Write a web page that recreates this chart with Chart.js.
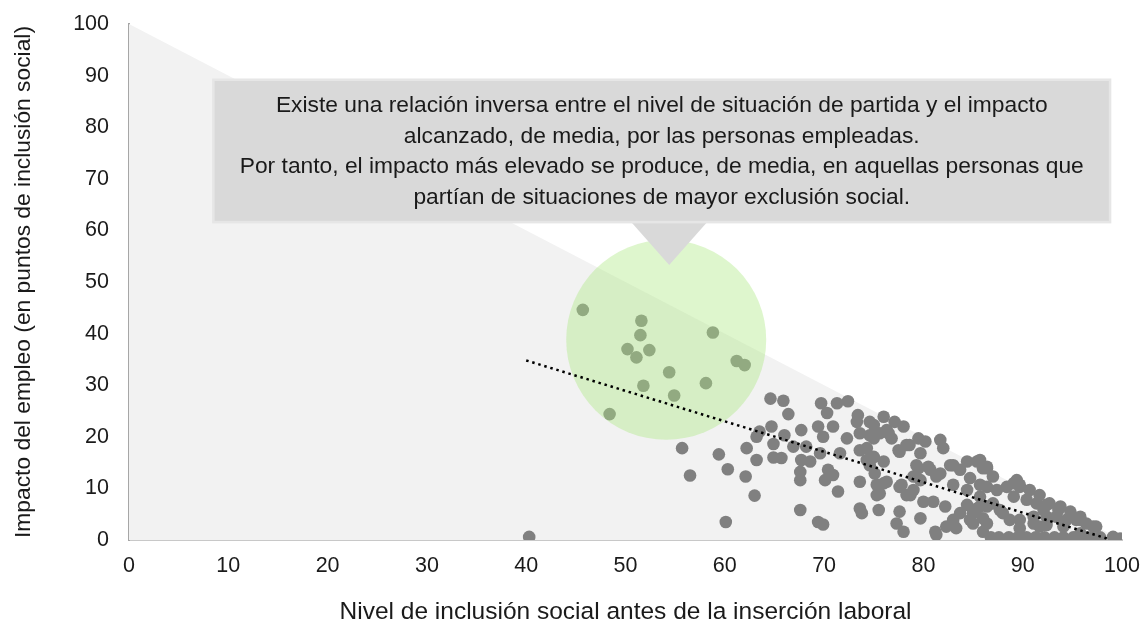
<!DOCTYPE html>
<html>
<head>
<meta charset="utf-8">
<script src="https://cdn.jsdelivr.net/npm/chart.js@4.4.1/dist/chart.umd.min.js"></script>
<style>
    html, body { margin: 0; padding: 0; background: #ffffff; }
    #wrap { width: 1147px; height: 624px; }
</style>
</head>
<body>
<div id="wrap"><canvas id="impactoChart"></canvas></div>
<script>
// Nivel de inclusión antes de la inserción (x) e impacto del empleo (y)
const inclusionAntes = [
    45.7, 51.6, 51.5, 50.2, 52.4, 51.1, 58.8, 61.2, 62.0, 54.4, 51.8, 58.1, 54.9, 48.4,
    40.3, 55.7, 56.5, 59.4, 60.3, 62.1, 62.2, 63.2, 63.2, 63.0, 60.1,
    64.6, 65.9, 66.4, 64.7, 66.0, 64.9, 64.9, 65.7, 66.9, 67.6, 63.5,
    67.7, 68.2, 67.7, 68.6, 67.6, 69.7, 70.3, 71.3, 72.4, 69.4, 69.9, 70.9, 69.6, 70.4,
    70.9, 70.1, 71.4, 71.6, 72.3, 69.4, 69.9, 67.6,
    73.4, 73.6, 73.6, 73.8, 74.6, 74.6, 74.3, 75.0, 74.6, 75.1, 75.3, 75.3, 75.5,
    73.3, 73.6, 73.6, 74.3,
    76.0, 77.1, 78.0, 75.0, 76.5, 75.0, 76.8, 79.5, 80.2, 78.6, 82.0, 77.6, 79.7, 76.0,
    79.3, 80.5, 76.3, 75.6, 77.8, 79.0, 81.3, 78.7, 80.0, 81.0, 82.2, 82.7, 83.7, 83.0,
    84.4, 85.4, 86.0, 84.7, 85.7, 84.4, 85.4, 77.6, 79.7, 77.3, 78.0, 81.2, 83.0, 83.3,
    85.0, 86.0, 86.0,
    76.3, 75.6, 77.5, 78.3, 79.5, 80.7, 81.7, 83.0, 86.4, 87.0,
    89.1, 89.7, 90.7, 91.7, 92.7, 93.8, 94.8, 95.8, 97.1, 99.1, 99.6,
    76.0, 77.6, 78.3, 79.0, 79.7, 81.3,
    82.3, 83.0, 83.7, 84.7, 85.0, 85.7, 87.0, 87.7,
    86.8, 87.6, 88.6, 89.5, 90.4, 91.3, 92.2, 93.2, 94.1, 95.1, 96.1, 96.9, 97.8,
    84.4, 85.7, 86.4, 87.4, 88.4, 89.4,
    89.1, 90.4, 91.4, 92.1, 92.4, 93.4, 94.4, 95.4, 96.4, 97.4,
    89.7, 91.1, 91.7,
    86.4, 89.7, 92.4, 93.6, 95.8, 99.8, 89.7,
    86.4, 86.4, 88.0, 88.7, 91.1, 92.4, 94.1, 95.8, 85.7, 81.7
];
const impactoEmpleo = [
    44.6, 42.5, 39.7, 37.0, 36.8, 35.4, 40.2, 34.7, 33.9, 32.5, 29.9, 30.4, 28.0, 24.4,
    0.6, 17.8, 12.5, 16.6, 13.7, 12.3, 17.8, 20.0, 15.5, 8.6, 3.5,
    27.4, 27.0, 24.4, 22.0, 20.3, 18.6, 16.0, 15.9, 18.1, 5.8, 21.0,
    21.3, 18.1, 15.5, 15.2, 13.2, 26.5, 24.6, 26.5, 26.9, 22.0, 20.0, 22.0, 16.8, 13.6,
    12.6, 11.6, 9.4, 16.8, 19.7, 3.5, 3.0, 11.6,
    24.2, 11.3, 6.1, 5.2, 22.9, 20.3, 17.8, 16.1, 14.5, 12.9, 10.7, 8.7, 5.8,
    22.9, 20.7, 17.4, 15.5,
    23.9, 22.9, 22.0, 22.3, 20.7, 19.7, 19.7, 19.7, 19.1, 18.4, 17.8, 17.1, 16.8, 15.2,
    14.5, 14.2, 11.3, 9.0, 10.7, 12.3, 12.3, 8.7, 7.4, 7.4, 6.5, 14.5, 13.6, 10.7,
    15.2, 15.2, 13.9, 12.0, 10.7, 6.8, 6.1, 5.5, 4.2, 3.2, 1.6, 1.6, 3.2, 2.3,
    3.2, 4.2, 1.6,
    21.3, 20.7, 17.4, 18.4, 13.9, 13.6, 12.9, 14.5, 13.9, 12.3,
    11.0, 10.3, 9.7, 8.7, 7.1, 6.5, 5.5, 4.5, 2.6, 0.6, 0.1,
    11.0, 10.3, 8.7, 9.7, 11.6, 1.0,
    2.6, 3.9, 5.2, 3.9, 5.2, 6.5, 7.1, 5.8,
    0.5, 0.5, 0.5, 0.5, 0.5, 0.5, 0.5, 0.5, 0.5, 0.5, 0.5, 0.5, 0.5,
    9.7, 8.4, 10.3, 9.7, 10.3, 11.6,
    8.4, 7.8, 7.1, 5.8, 4.5, 4.5, 3.9, 3.9, 3.2, 2.6,
    3.9, 3.2, 2.6,
    14.2, 10.7, 6.8, 5.8, 3.9, 0.3, 2.3,
    6.5, 3.2, 5.2, 3.9, 4.5, 2.9, 2.6, 1.3, 15.5, 19.4
];

// Línea de tendencia (extremos)
const tendenciaX = [40, 98.8];
const tendenciaY = [34.8, 0.1];

// Zona sombreada bajo el máximo posible (x + y <= 100)
const limiteX = [0, 100];
const limiteY = [100, 0];

// Círculo que resalta el grupo de partida más baja
const circuloX = [54.1];
const circuloY = [38.8];

const ejeTicks = [0, 10, 20, 30, 40, 50, 60, 70, 80, 90, 100];

const notaLineas = [
    'Existe una relación inversa entre el nivel de situación de partida y el impacto',
    'alcanzado, de media, por las personas empleadas.',
    'Por tanto, el impacto más elevado se produce, de media, en aquellas personas que',
    'partían de situaciones de mayor exclusión social.'
];

const FONT = "'Liberation Sans', Arial, sans-serif";

function toPoints(xs, ys) {
    return xs.map(function (x, i) { return {x: x, y: ys[i]}; });
}

// Cuadro de texto con flecha hacia el círculo
const notaPlugin = {
    id: 'nota',
    afterDatasetsDraw(chart) {
        const ctx = chart.ctx;
        const sx = chart.scales.x;
        const sy = chart.scales.y;
        const left = sx.getPixelForValue(8.5);
        const right = sx.getPixelForValue(98.8);
        const top = sy.getPixelForValue(89.2);
        const bottom = sy.getPixelForValue(61.6);

        ctx.save();
        // flecha
        ctx.fillStyle = '#d9d9d9';
        ctx.beginPath();
        ctx.moveTo(sx.getPixelForValue(50.5), bottom - 1);
        ctx.lineTo(sx.getPixelForValue(58.3), bottom - 1);
        ctx.lineTo(sx.getPixelForValue(54.4), sy.getPixelForValue(53.3));
        ctx.closePath();
        ctx.fill();

        // cuadro
        ctx.fillStyle = '#d9d9d9';
        ctx.fillRect(left, top, right - left, bottom - top);
        ctx.strokeStyle = '#e6e6e6';
        ctx.lineWidth = 2.5;
        ctx.strokeRect(left, top, right - left, bottom - top);

        // texto
        ctx.fillStyle = '#1a1a1a';
        ctx.font = '22.8px ' + FONT;
        ctx.textAlign = 'center';
        ctx.textBaseline = 'middle';
        const cx = (left + right) / 2;
        notaLineas.forEach(function (linea, i) {
            ctx.fillText(linea, cx, top + 26 + i * 30.5);
        });
        ctx.restore();
    }
};

new Chart(document.getElementById('impactoChart'), {
    type: 'scatter',
    data: {
        datasets: [
            {
                type: 'line',
                label: 'Tendencia',
                data: toPoints(tendenciaX, tendenciaY),
                borderColor: '#000000',
                borderWidth: 2.5,
                borderDash: [2.5, 3.8],
                pointRadius: 0,
                fill: false,
                order: 0
            },
            {
                label: 'Zona destacada',
                data: toPoints(circuloX, circuloY),
                pointRadius: 100,
                backgroundColor: 'rgba(172, 232, 130, 0.4)',
                borderWidth: 0,
                order: 1
            },
            {
                label: 'Personas',
                data: toPoints(inclusionAntes, impactoEmpleo),
                pointRadius: 6.3,
                backgroundColor: '#808080',
                borderWidth: 0,
                order: 2
            },
            {
                type: 'line',
                label: 'Límite',
                data: toPoints(limiteX, limiteY),
                borderWidth: 0,
                pointRadius: 0,
                fill: 'origin',
                backgroundColor: '#f2f2f2',
                order: 3
            }
        ]
    },
    options: {
        responsive: true,
        maintainAspectRatio: false,
        animation: false,
        events: [],
        layout: {autoPadding: false, padding: {top: 24, right: 25, left: 0, bottom: 0}},
        plugins: {
            legend: {display: false},
            tooltip: {enabled: false}
        },
        scales: {
            x: {
                type: 'linear',
                min: 0,
                max: 100,
                afterFit: function (scale) {
                    scale.height = 84;
                    scale.paddingLeft = 0;
                    scale.paddingRight = 0;
                },
                afterBuildTicks: function (scale) {
                    scale.ticks = ejeTicks.map(function (v) { return {value: v}; });
                },
                grid: {display: false, drawTicks: false},
                border: {display: true, color: '#c8c8c8', width: 2},
                ticks: {color: '#1a1a1a', padding: 13, font: {family: FONT, size: 21.5}},
                title: {
                    display: true,
                    text: 'Nivel de inclusión social antes de la inserción laboral',
                    color: '#1a1a1a',
                    font: {family: FONT, size: 24.5},
                    padding: {top: 0, bottom: -3}
                }
            },
            y: {
                type: 'linear',
                min: 0,
                max: 100,
                afterFit: function (scale) {
                    scale.width = 129;
                    scale.paddingTop = 0;
                    scale.paddingBottom = 0;
                },
                afterBuildTicks: function (scale) {
                    scale.ticks = ejeTicks.map(function (v) { return {value: v}; });
                },
                grid: {display: false, drawTicks: false},
                border: {display: true, color: '#a6a6a6', width: 2},
                ticks: {color: '#1a1a1a', padding: 20, font: {family: FONT, size: 21.5}},
                title: {
                    display: true,
                    text: 'Impacto del empleo (en puntos de inclusión social)',
                    color: '#1a1a1a',
                    font: {family: FONT, size: 22.8},
                    padding: {top: 10, bottom: 0}
                }
            }
        }
    },
    plugins: [notaPlugin]
});
</script>
</body>
</html>
